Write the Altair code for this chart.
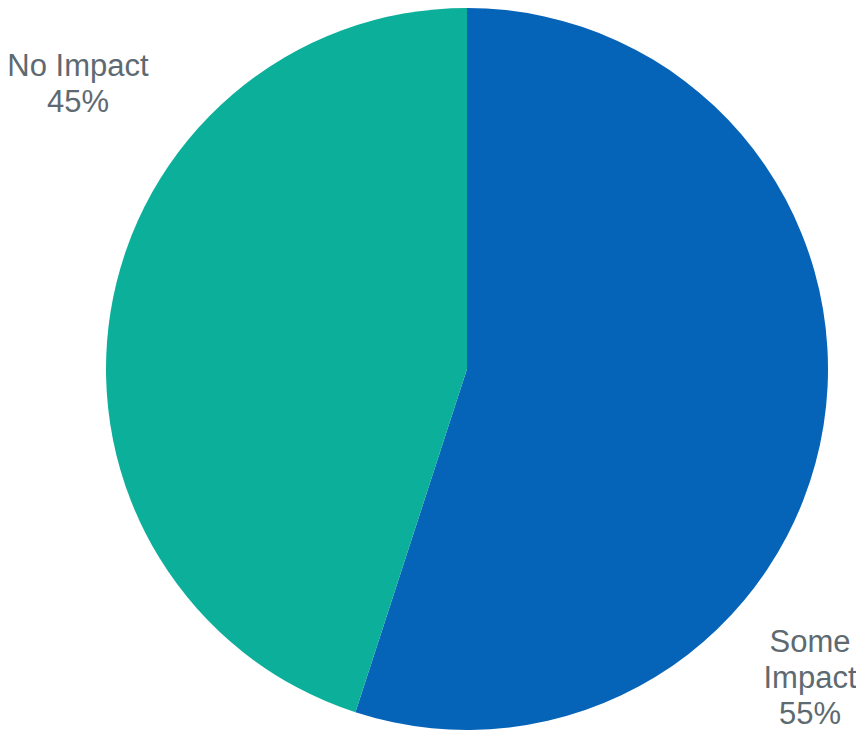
import altair as alt
import pandas as pd

categories = ["Some Impact", "No Impact"]
values = [55, 45]
labels = ["Some\nImpact\n55%", "No Impact\n45%"]
colors = ["#0563B8", "#0BAF9A"]

df = pd.DataFrame({"category": categories, "value": values, "label": labels, "idx": [0, 1]})

base = alt.Chart(df)

pie = base.mark_arc(outerRadius=361, stroke=None).encode(
    theta=alt.Theta("value:Q", stack=True),
    order=alt.Order("idx:Q"),
    color=alt.Color("category:N", scale=alt.Scale(domain=categories, range=colors), legend=None),
    x=alt.value(459),
    y=alt.value(361),
)

text_style = dict(font="Liberation Sans", fontSize=31, color="#5E6A71",
                  align="center", baseline="middle", lineBreak="\n", lineHeight=36)

lbl_no = base.transform_filter(alt.datum.category == "No Impact").mark_text(**text_style).encode(
    text="label:N", x=alt.value(70), y=alt.value(59)
)
lbl_some = base.transform_filter(alt.datum.category == "Some Impact").mark_text(**text_style).encode(
    text="label:N", x=alt.value(802), y=alt.value(635)
)

chart = alt.layer(pie, lbl_no, lbl_some).properties(
    width=848, height=723, padding=0, autosize=alt.AutoSizeParams(type="none")
).configure_view(stroke=None)

chart.save("out.html", embed_options={"renderer": "svg", "actions": False})
